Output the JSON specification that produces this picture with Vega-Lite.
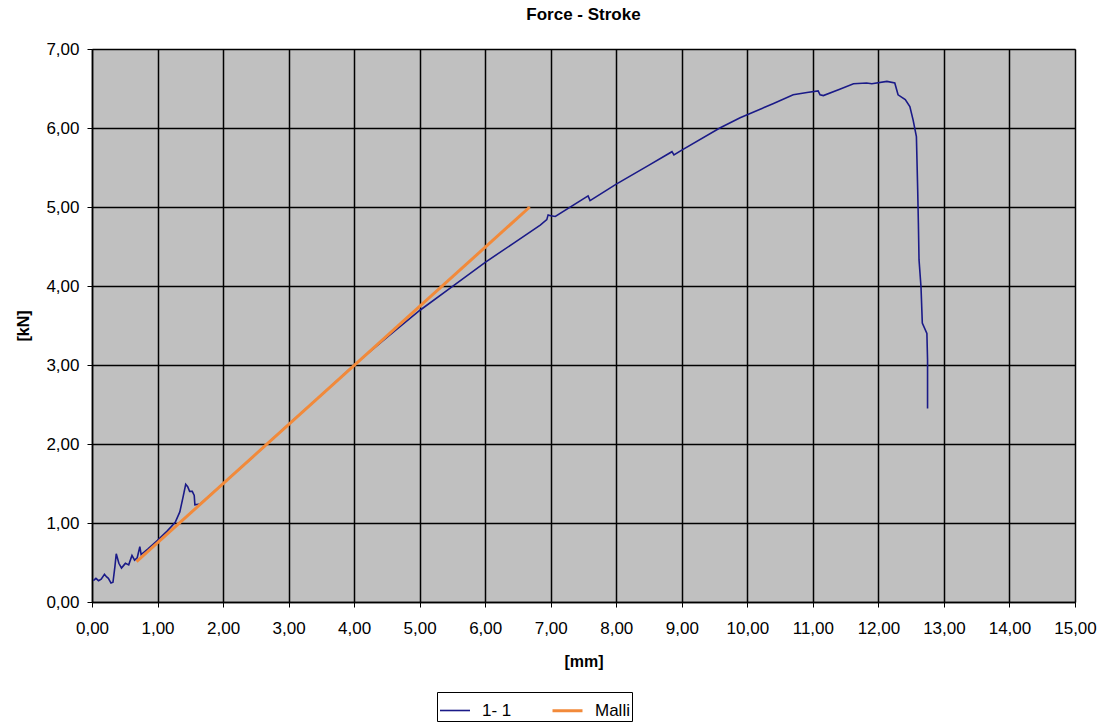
{
  "$schema": "https://vega.github.io/schema/vega-lite/v6.json",
  "width": 983,
  "height": 553,
  "autosize": {"type": "none"},
  "padding": {"left": 92, "top": 49, "right": 38, "bottom": 124},
  "background": "white",
  "title": {"text": "Force - Stroke", "fontSize": 17, "fontWeight": "bold", "font": "Liberation Sans", "color": "#000", "anchor": "middle", "offset": 16},
  "config": {
    "font": "Liberation Sans",
    "view": {"fill": "#C0C0C0", "stroke": "#808080", "strokeWidth": 1}
  },
  "data": {"values": [
    {"i": 1, "s": "1- 1", "x": 0.02, "y": 0.27},
    {"i": 2, "s": "1- 1", "x": 0.06, "y": 0.30},
    {"i": 3, "s": "1- 1", "x": 0.10, "y": 0.27},
    {"i": 4, "s": "1- 1", "x": 0.14, "y": 0.29},
    {"i": 5, "s": "1- 1", "x": 0.19, "y": 0.35},
    {"i": 6, "s": "1- 1", "x": 0.22, "y": 0.32},
    {"i": 7, "s": "1- 1", "x": 0.25, "y": 0.30},
    {"i": 8, "s": "1- 1", "x": 0.29, "y": 0.24},
    {"i": 9, "s": "1- 1", "x": 0.32, "y": 0.25},
    {"i": 10, "s": "1- 1", "x": 0.35, "y": 0.45},
    {"i": 11, "s": "1- 1", "x": 0.37, "y": 0.61},
    {"i": 12, "s": "1- 1", "x": 0.41, "y": 0.49},
    {"i": 13, "s": "1- 1", "x": 0.45, "y": 0.43},
    {"i": 14, "s": "1- 1", "x": 0.49, "y": 0.47},
    {"i": 15, "s": "1- 1", "x": 0.51, "y": 0.49},
    {"i": 16, "s": "1- 1", "x": 0.56, "y": 0.47},
    {"i": 17, "s": "1- 1", "x": 0.61, "y": 0.59},
    {"i": 18, "s": "1- 1", "x": 0.65, "y": 0.53},
    {"i": 19, "s": "1- 1", "x": 0.69, "y": 0.56},
    {"i": 20, "s": "1- 1", "x": 0.73, "y": 0.70},
    {"i": 21, "s": "1- 1", "x": 0.75, "y": 0.60},
    {"i": 22, "s": "1- 1", "x": 0.85, "y": 0.67},
    {"i": 23, "s": "1- 1", "x": 1.00, "y": 0.78},
    {"i": 24, "s": "1- 1", "x": 1.15, "y": 0.90},
    {"i": 25, "s": "1- 1", "x": 1.27, "y": 1.01},
    {"i": 26, "s": "1- 1", "x": 1.34, "y": 1.14},
    {"i": 27, "s": "1- 1", "x": 1.39, "y": 1.33},
    {"i": 28, "s": "1- 1", "x": 1.43, "y": 1.49},
    {"i": 29, "s": "1- 1", "x": 1.46, "y": 1.46},
    {"i": 30, "s": "1- 1", "x": 1.49, "y": 1.40},
    {"i": 31, "s": "1- 1", "x": 1.53, "y": 1.40},
    {"i": 32, "s": "1- 1", "x": 1.56, "y": 1.35},
    {"i": 33, "s": "1- 1", "x": 1.57, "y": 1.23},
    {"i": 34, "s": "1- 1", "x": 1.65, "y": 1.24},
    {"i": 35, "s": "1- 1", "x": 2.00, "y": 1.50},
    {"i": 36, "s": "1- 1", "x": 2.50, "y": 1.87},
    {"i": 37, "s": "1- 1", "x": 3.00, "y": 2.25},
    {"i": 38, "s": "1- 1", "x": 3.50, "y": 2.62},
    {"i": 39, "s": "1- 1", "x": 4.00, "y": 3.00},
    {"i": 40, "s": "1- 1", "x": 4.50, "y": 3.35},
    {"i": 41, "s": "1- 1", "x": 5.00, "y": 3.69},
    {"i": 42, "s": "1- 1", "x": 5.46, "y": 3.97},
    {"i": 43, "s": "1- 1", "x": 6.00, "y": 4.30},
    {"i": 44, "s": "1- 1", "x": 6.43, "y": 4.54},
    {"i": 45, "s": "1- 1", "x": 6.84, "y": 4.77},
    {"i": 46, "s": "1- 1", "x": 6.94, "y": 4.84},
    {"i": 47, "s": "1- 1", "x": 6.96, "y": 4.90},
    {"i": 48, "s": "1- 1", "x": 7.00, "y": 4.89},
    {"i": 49, "s": "1- 1", "x": 7.07, "y": 4.88},
    {"i": 50, "s": "1- 1", "x": 7.57, "y": 5.14},
    {"i": 51, "s": "1- 1", "x": 7.60, "y": 5.08},
    {"i": 52, "s": "1- 1", "x": 8.00, "y": 5.29},
    {"i": 53, "s": "1- 1", "x": 8.50, "y": 5.53},
    {"i": 54, "s": "1- 1", "x": 8.85, "y": 5.70},
    {"i": 55, "s": "1- 1", "x": 8.88, "y": 5.66},
    {"i": 56, "s": "1- 1", "x": 9.00, "y": 5.72},
    {"i": 57, "s": "1- 1", "x": 9.58, "y": 6.00},
    {"i": 58, "s": "1- 1", "x": 9.89, "y": 6.13},
    {"i": 59, "s": "1- 1", "x": 10.40, "y": 6.31},
    {"i": 60, "s": "1- 1", "x": 10.70, "y": 6.42},
    {"i": 61, "s": "1- 1", "x": 10.91, "y": 6.45},
    {"i": 62, "s": "1- 1", "x": 11.08, "y": 6.47},
    {"i": 63, "s": "1- 1", "x": 11.11, "y": 6.42},
    {"i": 64, "s": "1- 1", "x": 11.16, "y": 6.41},
    {"i": 65, "s": "1- 1", "x": 11.41, "y": 6.49},
    {"i": 66, "s": "1- 1", "x": 11.62, "y": 6.56},
    {"i": 67, "s": "1- 1", "x": 11.82, "y": 6.57},
    {"i": 68, "s": "1- 1", "x": 11.90, "y": 6.56},
    {"i": 69, "s": "1- 1", "x": 12.13, "y": 6.59},
    {"i": 70, "s": "1- 1", "x": 12.25, "y": 6.57},
    {"i": 71, "s": "1- 1", "x": 12.30, "y": 6.42},
    {"i": 72, "s": "1- 1", "x": 12.41, "y": 6.36},
    {"i": 73, "s": "1- 1", "x": 12.48, "y": 6.27},
    {"i": 74, "s": "1- 1", "x": 12.53, "y": 6.10},
    {"i": 75, "s": "1- 1", "x": 12.58, "y": 5.89},
    {"i": 76, "s": "1- 1", "x": 12.60, "y": 5.20},
    {"i": 77, "s": "1- 1", "x": 12.61, "y": 4.80},
    {"i": 78, "s": "1- 1", "x": 12.62, "y": 4.33},
    {"i": 79, "s": "1- 1", "x": 12.65, "y": 3.99},
    {"i": 80, "s": "1- 1", "x": 12.67, "y": 3.53},
    {"i": 81, "s": "1- 1", "x": 12.74, "y": 3.40},
    {"i": 82, "s": "1- 1", "x": 12.75, "y": 3.06},
    {"i": 83, "s": "1- 1", "x": 12.75, "y": 2.45},
    {"i": 84, "s": "Malli", "x": 0.68, "y": 0.51},
    {"i": 85, "s": "Malli", "x": 6.68, "y": 5.00}
  ]},
  "mark": {"type": "line", "clip": true},
  "encoding": {
    "x": {
      "field": "x", "type": "quantitative",
      "scale": {"domain": [0, 15], "nice": false, "zero": false},
      "axis": {
        "title": "[mm]", "titleFontSize": 16, "titleFontWeight": "bold", "titleColor": "#000", "titlePadding": 17,
        "values": [0,1,2,3,4,5,6,7,8,9,10,11,12,13,14,15],
        "labelExpr": "replace(format(datum.value, '.2f'), '.', ',')",
        "labelFontSize": 17, "labelColor": "#000", "labelPadding": 13, "labelFlush": false, "labelOverlap": false,
        "tickColor": "#000", "tickSize": 5, "tickWidth": 1,
        "domainColor": "#000", "domainWidth": 1.5,
        "grid": true, "gridColor": "#000", "gridWidth": 1.5, "gridOpacity": 1
      }
    },
    "y": {
      "field": "y", "type": "quantitative",
      "scale": {"domain": [0, 7], "nice": false, "zero": false},
      "axis": {
        "title": "[kN]", "titleFontSize": 16, "titleFontWeight": "bold", "titleColor": "#000", "titlePadding": 14,
        "values": [0,1,2,3,4,5,6,7],
        "labelExpr": "replace(format(datum.value, '.2f'), '.', ',')",
        "labelFontSize": 17, "labelColor": "#000", "labelPadding": 8, "labelFlush": false, "labelOverlap": false,
        "tickColor": "#000", "tickSize": 5, "tickWidth": 1,
        "domainColor": "#000", "domainWidth": 1.5,
        "grid": true, "gridColor": "#000", "gridWidth": 1.5, "gridOpacity": 1
      }
    },
    "color": {
      "field": "s", "type": "nominal",
      "scale": {"domain": ["1- 1", "Malli"], "range": ["#1A1A88", "#F28A3A"]},
      "legend": {
        "title": null, "orient": "none", "legendX": 345, "legendY": 643, "direction": "horizontal",
        "symbolType": "stroke", "symbolSize": 900, "symbolStrokeWidth": 2,
        "labelFontSize": 17, "labelColor": "#000", "labelOffset": 11,
        "columnPadding": 34, "padding": 2,
        "strokeColor": "#000", "fillColor": "#fff"
      }
    },
    "strokeWidth": {
      "field": "s", "type": "nominal",
      "scale": {"domain": ["1- 1", "Malli"], "range": [1.6, 3]},
      "legend": null
    },
    "order": {"field": "i", "type": "quantitative"}
  }
}
